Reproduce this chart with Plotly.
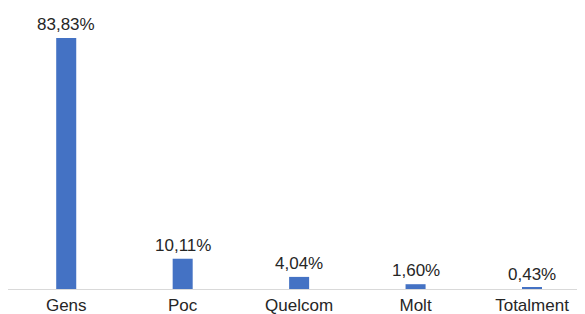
import plotly.graph_objects as go

categories = ["Gens", "Poc", "Quelcom", "Molt", "Totalment"]
values = [83.83, 10.11, 4.04, 1.60, 0.43]
labels = ["83,83%", "10,11%", "4,04%", "1,60%", "0,43%"]

FONT = "Liberation Sans, Arial"
fig = go.Figure(go.Bar(
    x=categories, y=values,
    marker=dict(color="#4472C4", line=dict(width=0)), width=0.172,
))
for c, v, t in zip(categories, values, labels):
    fig.add_annotation(x=c, y=v, text=t, showarrow=False, yanchor="bottom",
                       yshift=3, borderpad=0,
                       font=dict(family=FONT, size=17, color="#262626"))
fig.update_layout(
    width=577, height=306, margin=dict(l=0, r=0, t=0, b=25),
    plot_bgcolor="white", paper_bgcolor="white", showlegend=False,
    xaxis=dict(range=[-0.5, 4.455], showline=True, linecolor="#D9D9D9", linewidth=1,
               ticks="", showgrid=False, automargin=False, ticklabelstandoff=1,
               tickfont=dict(family=FONT, size=17, color="#262626")),
    yaxis=dict(range=[0, 93.85], visible=False, showgrid=False),
)
fig.write_html("out.html")
